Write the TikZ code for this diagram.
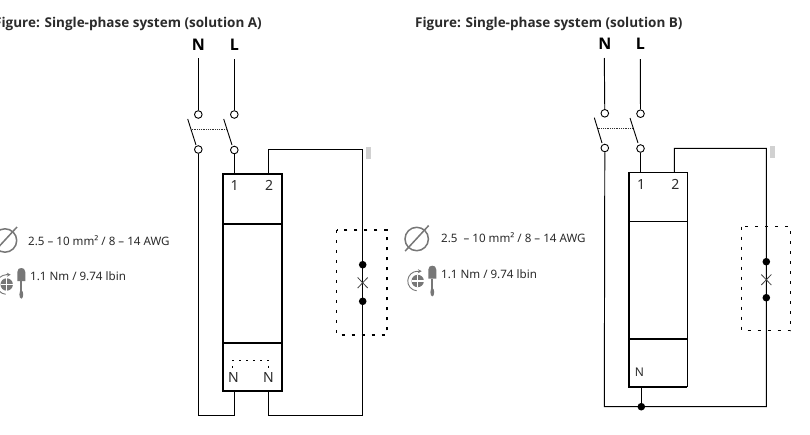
\documentclass[tikz,border=0pt]{standalone}
\usepackage{fontspec}
\setmainfont{Noto Sans}
\newfontfamily\headfont{Open Sans}
\usetikzlibrary{arrows.meta}
\definecolor{txt}{HTML}{2B2B2B}
\definecolor{icon}{HTML}{777777}
\tikzset{
  wire/.style={draw=black,line width=0.95pt},
  term/.style={circle,draw=black,fill=white,line width=0.9pt,minimum size=7.6pt,inner sep=0pt},
  joint/.style={circle,fill=black,minimum size=7.6pt,inner sep=0pt},
  blade/.style={draw=black,line width=0.9pt},
  gang/.style={draw=black!80,line width=1pt,dash pattern=on 1pt off 0.8pt},
  part/.style={draw=black,line width=1.7pt},
  thinpart/.style={draw=black,line width=1.1pt},
  lamp/.style={draw=black,line width=1.5pt,dash pattern=on 3pt off 7pt},
  link/.style={draw=black,line width=1pt,dash pattern=on 2pt off 5pt},
  title/.style={font=\headfont\fontsize{13.5}{15}\selectfont\bfseries,text=txt,anchor=west,inner sep=0pt},
  phase/.style={font=\headfont\fontsize{16}{18}\selectfont\bfseries,text=black,inner sep=0pt},
  pin/.style={font=\fontsize{14}{16}\selectfont,text=txt,inner sep=0pt},
  spec/.style={font=\fontsize{11.6}{13}\selectfont,text=txt,anchor=west,inner sep=0pt},
  ring/.style={draw=icon,line width=1.5pt},
  tool/.style={fill=icon,draw=none},
}
\newcommand{\screwdrv}{%
  \fill[tool] (-4,4) .. controls (-4,1) and (-2,0) .. (0,0) .. controls (2,0) and (4,1) .. (4,4) -- (4,13) -- (-4,13) -- cycle;
  \fill[tool] (-1.1,13) rectangle (1.1,24);
  \fill[tool] (0,26.5) ellipse (1.9 and 4.2);
}
\newcommand{\rotmark}{%
  \fill[icon] (0,0) circle (6.2);
  \draw[white,line width=1.1pt] (-6.2,0) -- (6.2,0) (0,-6.2) -- (0,6.2);
  \draw[icon,line width=0.9pt] (-1,9.8) arc (95:270:9.8);
  \draw[icon,line width=0.9pt,-{Stealth[length=3.8pt,width=4pt]}] (-1,-9.8) -- (4,-9.8);
}
\begin{document}
\begin{tikzpicture}[x=1pt,y=-1pt]
\useasboundingbox (0,0) rectangle (810,434);
\clip (0,0) rectangle (810,434);
\fill[white] (0,0) rectangle (810,434);

% ---------- Solution A ----------
\node[title] (titleA) at (-6,24) {Figure: Single-phase system (solution A)};
\node[phase] (Na) at (198.3,44.3) {N};
\node[phase] (La) at (234.3,44.3) {L};
\coordinate (NaTop) at (198.3,58);
\coordinate (LaTop) at (234.3,59);
\node[term] (Na1) at (198.3,114.5) {};
\node[term] (La1) at (234.3,114.5) {};
\node[term] (Na2) at (198.3,149.5) {};
\node[term] (La2) at (234.3,150) {};
\draw[wire] (NaTop) -- (Na1);
\draw[wire] (LaTop) -- (La1);
\coordinate (bNa1) at (187.7,119); \coordinate (bNa2) at (196,145);
\coordinate (bLa1) at (223.7,119); \coordinate (bLa2) at (232,145);
\draw[blade] (bNa1) -- (bNa2);
\draw[blade] (bLa1) -- (bLa2);
\coordinate (gNa) at (191.7,129.3); \coordinate (gLa) at (226.5,129.3);
\draw[gang] (gNa) -- (gLa);
% device
\coordinate (a1) at (222.7,174); \coordinate (a2) at (282,391);
\coordinate (p1a) at (234.3,174); \coordinate (p2a) at (268.3,174);
\coordinate (nla) at (234.3,391); \coordinate (nra) at (268.3,391);
\coordinate (nlow) at (198.3,415); \coordinate (cnr) at (362.7,415);
\coordinate (ctop) at (362.7,149.3);
\draw[wire] (La2) -- (p1a);
\draw[wire] (Na2) -- (nlow) -| (nla);
\draw[wire] (p2a) |- (ctop) -- (cnr) -| (nra);
\draw[part] (a1) rectangle (a2);
\coordinate (d1l) at (222.7,223.7); \coordinate (d1r) at (282,223.7);
\coordinate (d2l) at (222.7,342.7); \coordinate (d2r) at (282,342.7);
\draw[part] (d1l) -- (d1r);
\draw[part] (d2l) -- (d2r);
\node[pin] (one-a) at (234.5,185.5) {1};
\node[pin] (two-a) at (269,185.5) {2};
\node[pin] (na-l) at (233.5,377.5) {N};
\node[pin] (na-r) at (268.5,377.5) {N};
\draw[link] (232.7,368) -- (232.7,360.3) -- (268.7,360.3) -- (268.7,368);
% lamp
\coordinate (la1) at (336.7,230); \coordinate (la2) at (387,335);
\draw[lamp] (la1) rectangle (la2);
\node[joint] (ja1) at (362.7,264.7) {};
\node[joint] (ja2) at (362.7,301.3) {};
\draw[draw=black!75,line width=0.8pt] (357.7,277.5) -- (367.7,288) (367.7,277.5) -- (357.7,288);
% tiny mark
\fill[black!18] (365.5,147) rectangle (370.5,159);
% specs
\begin{scope}[shift={(5,240.5)}]
  \draw[ring] (0,0) circle (11.7);
  \draw[ring] (-11.5,12) -- (12,-13.5);
\end{scope}
\node[spec] (specA1) at (28,240.5) {2.5 – 10 mm² / 8 – 14 AWG};
\node[spec] (specA2) at (30,276) {1.1 Nm / 9.74 lbin};
\begin{scope}[shift={(6.7,284.5)}] \rotmark \end{scope}
\begin{scope}[shift={(21.3,268)}] \screwdrv \end{scope}

% ---------- Solution B ----------
\node[title] (titleB) at (415,23.5) {Figure: Single-phase system (solution B)};
\node[phase] (Nb) at (604.8,43.8) {N};
\node[phase] (Lb) at (640.3,43.8) {L};
\coordinate (NbTop) at (604.3,58);
\coordinate (LbTop) at (640.3,59);
\node[term] (Nb1) at (604.8,113.3) {};
\node[term] (Lb1) at (640.5,113.7) {};
\node[term] (Nb2) at (604.8,148) {};
\node[term] (Lb2) at (640.5,148.5) {};
\draw[wire] (NbTop) -- (Nb1);
\draw[wire] (LbTop) -- (Lb1);
\coordinate (bNb1) at (594.3,117.7); \coordinate (bNb2) at (602,143);
\coordinate (bLb1) at (630,118); \coordinate (bLb2) at (638,143);
\draw[blade] (bNb1) -- (bNb2);
\draw[blade] (bLb1) -- (bLb2);
\coordinate (gNb) at (597.5,128); \coordinate (gLb) at (632.5,128);
\draw[gang] (gNb) -- (gLb);
\coordinate (b1) at (629,172.7); \coordinate (b2) at (687.3,386.7);
\coordinate (p1b) at (640.5,172.7); \coordinate (p2b) at (674.3,172.7);
\coordinate (nbot) at (641.3,386.7);
\coordinate (nlowb) at (604.3,406.7); \coordinate (cnrb) at (766.3,406.7);
\coordinate (ctopb) at (766.3,148.3);
\node[joint] (jn) at (641.3,406.7) {};
\draw[wire] (Lb2) -- (p1b);
\draw[wire] (Nb2.south) -- (nlowb) -- (cnrb) -- (ctopb) -- (ctopb -| p2b) -- (p2b);
\draw[wire] (nbot) -- (jn);
\draw[thinpart] (b1) rectangle (b2);
\draw[part] (629,172.7) -- (629,386.7) -- (687.3,386.7);
\coordinate (e1l) at (629,221.7); \coordinate (e1r) at (687.3,221.7);
\coordinate (e2l) at (629,338.7); \coordinate (e2r) at (687.3,338.7);
\draw[thinpart] (e1l) -- (e1r);
\draw[part] (e2l) -- (e2r);
\node[pin] (one-b) at (641,184.5) {1};
\node[pin] (two-b) at (675.3,184.5) {2};
\node[pin,font=\fontsize{12}{14}\selectfont] (nb-l) at (639.3,372.7) {N};
\coordinate (lb1) at (741.7,226.7); \coordinate (lb2) at (790.7,330.7);
\draw[lamp] (lb1) rectangle (lb2);
\node[joint] (jb1) at (766.3,261.7) {};
\node[joint] (jb2) at (766.3,297.7) {};
\draw[draw=black!75,line width=0.8pt] (761.3,274.5) -- (771.3,285) (771.3,274.5) -- (761.3,285);
\fill[black!18] (770,146) rectangle (775,158);
% specs
\begin{scope}[shift={(416.7,239)}]
  \draw[ring] (0,0) circle (11.7);
  \draw[ring] (-11.5,12) -- (12,-13.5);
\end{scope}
\node[spec] (specB1) at (441,238) {2.5 \ – 10 mm² / 8 – 14 AWG};
\node[spec] (specB2) at (441,274) {1.1 Nm / 9.74 lbin};
\begin{scope}[shift={(417.7,281)}] \rotmark \end{scope}
\begin{scope}[shift={(432.3,265.7)}] \screwdrv \end{scope}
\end{tikzpicture}
\end{document}
